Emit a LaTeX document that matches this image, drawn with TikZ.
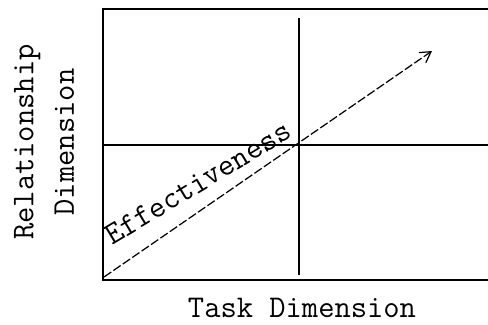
\documentclass[tikz,border=0pt]{standalone}
\usepackage{tikz}
\usetikzlibrary{positioning,arrows.meta,calc}

\begin{document}
\begin{tikzpicture}[x=0.02cm, y=-0.02cm,
    axisline/.style={line width=0.9pt, black},
    efftext/.style={font=\ttfamily\fontsize{18}{23}\selectfont},
    dimlabel/.style={font=\ttfamily\fontsize{18}{23}\selectfont, align=center}]
  \useasboundingbox (0, 0) rectangle (488, 325);

  % Corners of the grid
  \coordinate (tl) at (103, 9);
  \coordinate (tr) at (488, 9);
  \coordinate (bl) at (103, 280);
  \coordinate (br) at (488, 280);
  \coordinate (mt) at (299, 18);
  \coordinate (mb) at (299, 275);
  \coordinate (ml) at (103, 145);
  \coordinate (mr) at (488, 145);

  % Frame
  \draw[axisline] (tr) -- (tl) -- (bl) -- (br);

  % Quadrant lines
  \draw[axisline] (mt) -- (mb);
  \draw[axisline] (ml) -- (mr);

  % Effectiveness arrow
  \coordinate (effstart) at (104, 277);
  \coordinate (effend) at (432, 51);
  \draw[line width=0.7pt, dash pattern=on 5pt off 1.5pt, -{Straight Barb[length=6pt, width=7pt]}]
    (effstart) -- (effend);
  \node[efftext, rotate=31, anchor=base, inner sep=1pt] (efflabel) at (203, 191) {Effectiveness};

  % Axis labels
  \node[dimlabel, rotate=90] (rellabel) at (44, 142) {Relationship\\Dimension};
  \node[dimlabel] (tasklabel) at (302, 308) {Task Dimension};

\end{tikzpicture}
\end{document}
